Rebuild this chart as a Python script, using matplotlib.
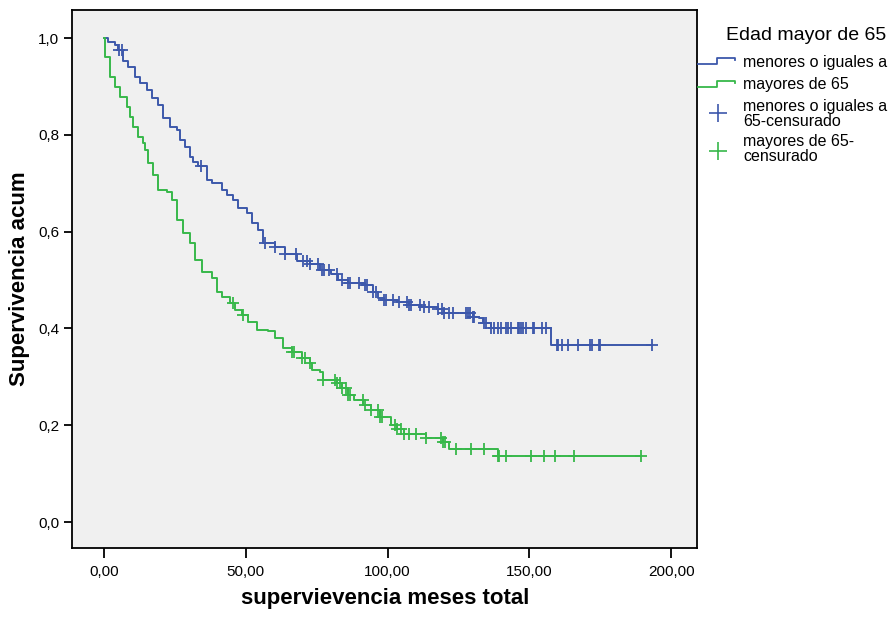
import numpy as np
import matplotlib
matplotlib.use("Agg")
import matplotlib.pyplot as plt
from matplotlib.lines import Line2D
from matplotlib.ticker import FuncFormatter

plt.rcParams['font.family'] = ['Liberation Sans', 'DejaVu Sans']

# Kaplan-Meier: menores o iguales a 65 (tiempos de evento y supervivencia tras el salto)
t_menores = [0, 1.4, 3.9, 4.9, 6.7, 8.5, 11.0, 12.7, 15.2, 17.0, 19.1, 20.8, 23.3, 25.8,
             26.9, 28.6, 30.4, 31.4, 33.0, 36.4, 38.2, 41.7, 43.5, 45.6, 47.3, 50.5, 52.3,
             54.4, 56.2, 60.4, 64.0, 68.2, 72.8, 76.3, 79.9, 82.7, 86.2, 92.2, 94.7, 96.5,
             98.6, 103.5, 107.4, 111.7, 117.7, 119.8, 130.0, 132.2, 133.6, 136.4, 157.6]
s_menores = [1.000, 0.992, 0.986, 0.975, 0.952, 0.940, 0.919, 0.907, 0.893, 0.876, 0.862,
             0.835, 0.816, 0.810, 0.789, 0.775, 0.754, 0.744, 0.736, 0.707, 0.700, 0.686,
             0.676, 0.665, 0.649, 0.638, 0.618, 0.603, 0.576, 0.568, 0.554, 0.539, 0.533,
             0.521, 0.512, 0.500, 0.494, 0.490, 0.475, 0.463, 0.459, 0.455, 0.448, 0.444,
             0.440, 0.432, 0.424, 0.421, 0.411, 0.401, 0.366]
c_menores = [5.3, 6.4, 34.3, 56.9, 60.4, 64.0, 67.8, 70.3, 71.7, 72.8, 75.3, 77.0, 77.7,
             79.5, 82.3, 84.1, 86.2, 86.9, 89.8, 92.2, 92.9, 94.7, 95.8, 98.6, 99.3, 102.1,
             103.9, 106.7, 107.4, 108.1, 111.3, 112.7, 114.5, 117.7, 119.1, 119.8, 121.6,
             123.0, 127.6, 128.3, 129.0, 130.0, 130.4, 133.9, 134.6, 136.4, 137.5, 138.9,
             139.9, 141.7, 142.4, 143.5, 145.9, 146.3, 147.0, 147.7, 148.8, 151.2, 151.6,
             154.4, 155.8, 159.6, 160.1, 161.6, 163.6, 167.3, 171.5, 172.2, 174.7, 175.0,
             193.1]

# mayores de 65
t_mayores = [0, 0.2, 0.5, 2.1, 3.9, 5.7, 8.1, 9.2, 10.2, 12.0, 13.8, 14.5, 15.5, 17.3,
             19.1, 22.3, 24.0, 25.8, 27.9, 30.4, 32.2, 34.6, 38.2, 39.9, 41.7, 44.5, 46.3,
             48.8, 50.9, 54.1, 58.0, 60.4, 63.3, 66.4, 70.0, 72.8, 73.5, 76.3, 77.4, 82.3,
             84.1, 86.2, 88.0, 91.5, 94.0, 97.5, 101.1, 103.5, 105.7, 113.4, 119.4, 121.6,
             138.9]
s_mayores = [1.000, 0.980, 0.961, 0.919, 0.899, 0.878, 0.857, 0.837, 0.816, 0.795, 0.783,
             0.769, 0.742, 0.717, 0.686, 0.682, 0.665, 0.624, 0.597, 0.576, 0.541, 0.517,
             0.504, 0.475, 0.465, 0.452, 0.438, 0.428, 0.413, 0.397, 0.395, 0.380, 0.360,
             0.351, 0.339, 0.329, 0.314, 0.310, 0.293, 0.287, 0.277, 0.262, 0.252, 0.242,
             0.231, 0.217, 0.200, 0.192, 0.182, 0.174, 0.165, 0.151, 0.136]
c_mayores = [45.6, 49.1, 66.4, 67.1, 70.0, 71.0, 72.8, 77.4, 81.6, 82.3, 83.4, 84.1, 85.2,
             86.2, 86.9, 91.2, 92.2, 94.0, 96.8, 97.5, 98.2, 102.8, 103.5, 104.6, 105.7,
             107.4, 109.9, 113.4, 118.7, 119.4, 120.1, 124.0, 129.3, 133.9, 138.9, 139.2,
             141.7, 150.5, 155.1, 159.0, 165.7, 189.4]

azul = '#3d58ab'
verde = '#37b84a'

fig = plt.figure(figsize=(8.93, 6.17), dpi=100)
ax = fig.add_axes([0.0806, 0.1118, 0.7004, 0.8720])
ax.set_facecolor('#f0f0f0')


def curva(t, s, cens, color):
    t = np.asarray(t)
    s = np.asarray(s)
    cens = np.asarray(cens)
    tt = np.append(t, cens.max())
    ss = np.append(s, s[-1])
    ax.step(tt, ss, where='post', color=color, lw=1.4, zorder=3)
    nivel = s[np.searchsorted(t, cens, side='right') - 1]
    ax.plot(cens, nivel, ls='none', marker='+', ms=8, mew=1.3, color=color, zorder=4)


curva(t_menores, s_menores, c_menores, azul)
curva(t_mayores, s_mayores, c_mayores, verde)

ax.set_xlim(-11.3, 209.3)
ax.set_ylim(-0.0537, 1.058)
ax.set_xticks([0, 50, 100, 150, 200])
ax.set_yticks([0, 0.2, 0.4, 0.6, 0.8, 1.0])
ax.xaxis.set_major_formatter(FuncFormatter(lambda v, p: f'{v:.2f}'.replace('.', ',')))
ax.yaxis.set_major_formatter(FuncFormatter(lambda v, p: f'{v:.1f}'.replace('.', ',')))
ax.tick_params(axis='x', direction='out', length=7, width=1.3, pad=5, labelsize=11)
ax.tick_params(axis='y', direction='out', length=6, width=1.3, pad=3, labelsize=11)
for sp in ax.spines.values():
    sp.set_linewidth(1.3)
    sp.set_color('black')

ax.set_xlabel('supervievencia meses total', fontsize=16, fontweight='bold', labelpad=7)
ax.set_ylabel('Supervivencia acum', fontsize=16, fontweight='bold', labelpad=6)

# Leyenda a la derecha del gráfico
W, H = 893.0, 617.0


def fx(px):
    return px / W


def fy(py):
    return 1 - py / H


fig.text(fx(726), fy(36), 'Edad mayor de 65', fontsize=14, va='center', ha='left')
for y0, col in [(64, azul), (87, verde)]:
    xs = [fx(p) for p in (698, 717, 717, 735, 735)]
    ys = [fy(p) for p in (y0, y0, y0 - 6, y0 - 6, y0 - 4)]
    fig.add_artist(Line2D(xs, ys, color=col, lw=1.3, transform=fig.transFigure))
fig.text(fx(743), fy(62), 'menores o iguales a', fontsize=11.5, va='center', ha='left')
fig.text(fx(743), fy(84), 'mayores de 65', fontsize=11.5, va='center', ha='left')
fig.add_artist(Line2D([fx(718)], [fy(113)], marker='+', ms=13, mew=1.2, color=azul,
                      transform=fig.transFigure))
fig.text(fx(743), fy(114), 'menores o iguales a\n65-censurado', fontsize=11.5,
         va='center', ha='left', linespacing=0.95)
fig.add_artist(Line2D([fx(718)], [fy(151)], marker='+', ms=13, mew=1.2, color=verde,
                      transform=fig.transFigure))
fig.text(fx(743), fy(149), 'mayores de 65-\ncensurado', fontsize=11.5,
         va='center', ha='left', linespacing=0.95)

fig.savefig('out.png', dpi=100)
